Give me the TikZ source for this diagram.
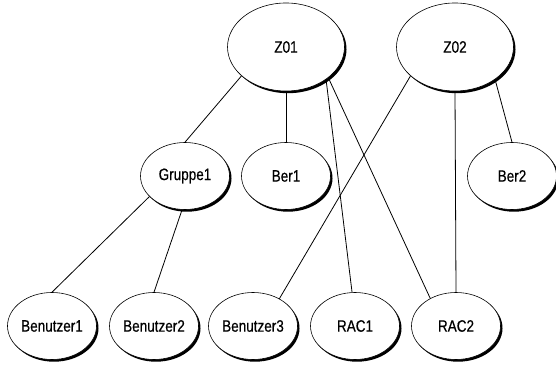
\documentclass[tikz,border=0pt]{standalone}
\usepackage{fontspec}
\setmainfont{Liberation Sans}[FakeStretch=0.82,FakeBold=0.5]
\usepackage{tikz}
\usetikzlibrary{shapes.geometric,shadows}

\begin{document}
\begin{tikzpicture}
    [x=1pt, y=-1pt,
    every node/.style={font=\fontsize{16.5}{18}\selectfont},
    knoten/.style={ellipse, draw, line width=0.6pt, fill=white, inner sep=0pt,
        drop shadow={shadow xshift=2pt, shadow yshift=-2.2pt, fill=black, opacity=1},
        minimum width=89pt, minimum height=67pt},
    zone/.style={knoten, minimum width=117pt, minimum height=88pt},
    verb/.style={line width=0.8pt}]

\useasboundingbox (0,0) rectangle (556,366);

\node[zone] (zo1) at (286,47) {Z01};
\node[zone] (zo2) at (455,47) {Z02};
\node[knoten] (gruppe1) at (185,176) {Gruppe1};
\node[knoten] (ber1) at (286,176) {Ber1};
\node[knoten] (ber2) at (512,176) {Ber2};
\node[knoten] (benutzer1) at (52,326) {Benutzer1};
\node[knoten] (benutzer2) at (154,326) {Benutzer2};
\node[knoten] (benutzer3) at (253,326) {Benutzer3};
\node[knoten] (rac1) at (355,326) {RAC1};
\node[knoten] (rac2) at (456,326) {RAC2};

    \draw[verb] (zo1.-147) -- (gruppe1.north);
    \draw[verb] (zo1.south) -- (ber1.north);
    \draw[verb] (zo1.-39) -- (rac1.95);
    \draw[verb] (zo1.-36) -- (rac2.133);
    \draw[verb] (zo2.-147) -- (benutzer3.46);
    \draw[verb] (zo2.south) -- (rac2.north);
    \draw[verb] (zo2.-39) -- (ber2.north);
    \draw[verb] (gruppe1.-150) -- (benutzer1.north);
    \draw[verb] (gruppe1.-95) -- (benutzer2.north);
\end{tikzpicture}
\end{document}
